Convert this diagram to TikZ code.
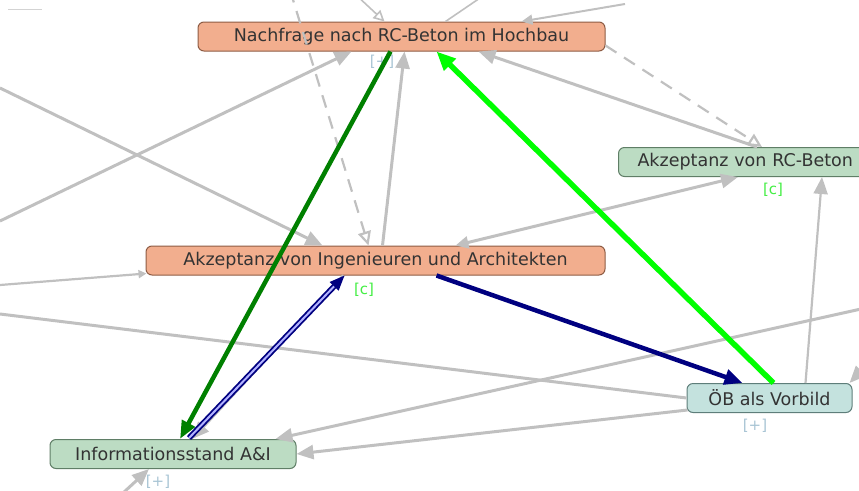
\documentclass[tikz,border=0pt]{standalone}
\usepackage{fontspec}
\setmainfont{DejaVu Sans}
\usetikzlibrary{arrows.meta,calc}
\definecolor{salmonfill}{HTML}{F2AE8E}
\definecolor{salmonline}{HTML}{8E5C44}
\definecolor{greenfill}{HTML}{BCDCC3}
\definecolor{greenline}{HTML}{5F7E66}
\definecolor{tealfill}{HTML}{C4E2DE}
\definecolor{tealline}{HTML}{5E7E7A}
\definecolor{edgegrey}{HTML}{C0C0C0}
\definecolor{darkgreen}{HTML}{008000}
\definecolor{brightgreen}{HTML}{00FF00}
\definecolor{navyblue}{HTML}{000080}
\definecolor{tagc}{HTML}{44EE44}
\definecolor{tagplus}{HTML}{A8C4D4}
\tikzset{
  factor/.style={rounded corners=6pt, line width=1pt, minimum height=29pt,
    inner sep=0pt, font=\fontsize{17.5}{19}\selectfont, text=black!80},
  warm/.style={factor, fill=salmonfill, draw=salmonline},
  cool/.style={factor, fill=greenfill, draw=greenline},
  teal/.style={factor, fill=tealfill, draw=tealline},
  tag/.style={font=\fontsize{15}{16}\selectfont, inner sep=0pt},
  link/.style={draw=edgegrey, line width=3pt, -{Triangle[length=17pt,width=14pt]}},
  plainlink/.style={draw=edgegrey, line width=3pt},
  dashlink/.style={draw=edgegrey, line width=2.2pt, dash pattern=on 13pt off 9pt,
    -{Triangle[open,length=14pt,width=13pt,fill=white]}},
}
\begin{document}
\begin{tikzpicture}[x=1pt,y=-1pt]
\useasboundingbox (0,0) rectangle (859,490);
\clip (0,0) rectangle (859,490);

% factors
\node[warm, minimum width=407pt] (n1) at (401.5,36.5) {Nachfrage nach RC-Beton im Hochbau};
\node[warm, minimum width=459pt] (n2) at (375.5,260.5) {Akzeptanz von Ingenieuren und Architekten};
\node[cool, anchor=west, text width=250pt, inner xsep=19pt, align=left] (n3) at (618,162) {Akzeptanz von RC-Beton};
\node[teal, minimum width=165pt] (n4) at (769.5,398) {ÖB als Vorbild};
\node[cool, minimum width=246pt] (n5) at (173,454) {Informationsstand A\&I};

% tags under the factors
\node[tag, text=tagplus] (t1) at (382,62) {[+]};
\node[tag, text=tagc] (t2) at (364,290) {[c]};
\node[tag, text=tagc] (t3) at (773,190) {[c]};
\node[tag, text=tagplus] (t4) at (755,426) {[+]};
\node[tag, text=tagplus] (t5) at (158,482) {[+]};

% free ends of links leaving the view
\coordinate (l1) at (0,88);
\coordinate (l2) at (0,221);
\coordinate (l3) at (0,285);
\coordinate (l4) at (0,314);
\coordinate (r1) at (870,307);
\coordinate (r2) at (900,330);
\coordinate (b1) at (110,505);
\coordinate (u1) at (290,-10);
\coordinate (u2) at (355,-6);
\coordinate (u3) at (480,-2);
\coordinate (u4) at (625,4);
\coordinate (k1) at (8,9);
\coordinate (k2) at (42,9);

% grey links
\draw[draw=edgegrey!70, line width=1pt] (k1) -- (k2);
\draw[link] (l1) -- ($(n2.north)+(-53,0)$);
\draw[link] (l2) -- ($(n1.south)+(-50,0)$);
\draw[dashlink] (u1) -- ($(n2.north)+(-7,0)$);
\draw[link] ($(n2.north)+(7,0)$) -- ($(n1.south)+(3,0)$);
\draw[link] ($(n3.north west)+(139,0)$) -- ($(n1.south)+(77,0)$);
\draw[dashlink] ($(n1.south east)+(0,-6)$) -- ($(n3.north west)+(144,0)$);
\draw[link, {Triangle[length=13pt,width=12pt]}-{Triangle[length=17pt,width=14pt]}]
  ($(n2.north)+(80,0)$) -- ($(n3.south west)+(120,0)$);
\draw[link, line width=2.2pt] ($(n4.north)+(36,0)$) -- ($(n3.south west)+(204,0)$);
\draw[link] (r2) -- ($(n4.north east)+(-3,0)$);
\draw[plainlink] (n4.west) -- (l4);
\draw[link] (r1) -- ($(n5.north east)+(-21,0)$);
\draw[link] ($(n4.south west)+(1,-3)$) -- (n5.east);
\draw[draw=edgegrey, line width=2.2pt, -{Triangle[length=8pt,width=8pt]}] (l3) -- ($(n2.south west)+(1,-2)$);
\draw[link] (b1) -- ($(n5.south)+(-24,0)$);
\draw[link] ($(n2.south)+(-32,0)$) -- ($(n5.north)+(19,0)$);

% short links at the upper border
\draw[draw=edgegrey, line width=1.6pt, -{Triangle[open,length=11pt,width=11pt,fill=white]}] (u2) -- ($(n1.north)+(-17,0)$);
\draw[draw=edgegrey, line width=1.6pt] ($(n1.north)+(44,0)$) -- (u3);
\draw[draw=edgegrey, line width=2pt, -{Triangle[length=11pt,width=10pt]}] (u4) -- ($(n1.north)+(120,0)$);

% coloured links
\draw[draw=darkgreen, line width=4.5pt, -{Triangle[length=18pt,width=14pt]}]
  ($(n1.south)+(-11,0)$) -- ($(n5.north)+(7,0)$);
\draw[draw=brightgreen, line width=5.5pt, -{Triangle[length=19pt,width=16pt]}]
  ($(n4.north)+(4,0)$) -- ($(n1.south)+(35,0)$);
\draw[draw=navyblue, line width=4.5pt, -{Triangle[length=18pt,width=15pt]}]
  ($(n2.south)+(61,0)$) -- ($(n4.north)+(-27,0)$);
\draw[draw=navyblue, double=white!70!blue, double distance=2pt, line width=1.8pt,
  -{Triangle[length=15pt,width=12pt]}]
  ($(n5.north)+(16,-1)$) -- ($(n2.south)+(-31,0)$);
\end{tikzpicture}
\end{document}
